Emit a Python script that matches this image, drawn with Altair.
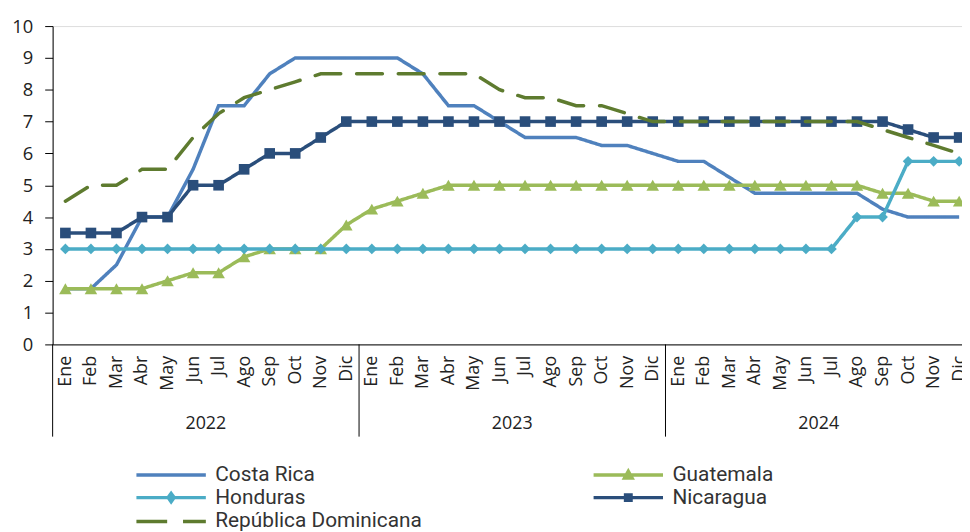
import altair as alt
import pandas as pd

MESES = ["Ene", "Feb", "Mar", "Abr", "May", "Jun", "Jul", "Ago", "Sep", "Oct", "Nov", "Dic"]
ANIOS = ["2022", "2023", "2024"]
PAISES = ["Costa Rica", "Guatemala", "Honduras", "Nicaragua", "República Dominicana"]
COLORES = ["#4F81BD", "#9BBB59", "#4BACC6", "#2A4E7B", "#5E7B2F"]

costa_rica = [1.75, 1.75, 2.5, 4.0, 4.0, 5.5, 7.5, 7.5, 8.5, 9.0, 9.0, 9.0,
              9.0, 9.0, 8.5, 7.5, 7.5, 7.0, 6.5, 6.5, 6.5, 6.25, 6.25, 6.0,
              5.75, 5.75, 5.25, 4.75, 4.75, 4.75, 4.75, 4.75, 4.25, 4.0, 4.0, 4.0]
guatemala = [1.75, 1.75, 1.75, 1.75, 2.0, 2.25, 2.25, 2.75, 3.0, 3.0, 3.0, 3.75,
             4.25, 4.5, 4.75, 5.0, 5.0, 5.0, 5.0, 5.0, 5.0, 5.0, 5.0, 5.0,
             5.0, 5.0, 5.0, 5.0, 5.0, 5.0, 5.0, 5.0, 4.75, 4.75, 4.5, 4.5]
honduras = [3.0, 3.0, 3.0, 3.0, 3.0, 3.0, 3.0, 3.0, 3.0, 3.0, 3.0, 3.0,
            3.0, 3.0, 3.0, 3.0, 3.0, 3.0, 3.0, 3.0, 3.0, 3.0, 3.0, 3.0,
            3.0, 3.0, 3.0, 3.0, 3.0, 3.0, 3.0, 4.0, 4.0, 5.75, 5.75, 5.75]
nicaragua = [3.5, 3.5, 3.5, 4.0, 4.0, 5.0, 5.0, 5.5, 6.0, 6.0, 6.5, 7.0,
             7.0, 7.0, 7.0, 7.0, 7.0, 7.0, 7.0, 7.0, 7.0, 7.0, 7.0, 7.0,
             7.0, 7.0, 7.0, 7.0, 7.0, 7.0, 7.0, 7.0, 7.0, 6.75, 6.5, 6.5]
rep_dominicana = [4.5, 5.0, 5.0, 5.5, 5.5, 6.5, 7.25, 7.75, 8.0, 8.25, 8.5, 8.5,
                  8.5, 8.5, 8.5, 8.5, 8.5, 8.0, 7.75, 7.75, 7.5, 7.5, 7.25, 7.0,
                  7.0, 7.0, 7.0, 7.0, 7.0, 7.0, 7.0, 7.0, 6.75, 6.5, 6.25, 6.0]

SERIES = [costa_rica, guatemala, honduras, nicaragua, rep_dominicana]

rows = []
for pais, vals in zip(PAISES, SERIES):
    for i, v in enumerate(vals):
        rows.append({"pais": pais, "idx": i, "valor": v})
df = pd.DataFrame(rows)

n = len(MESES) * len(ANIOS)
years_df = pd.DataFrame({"anio": ANIOS,
                         "centro": [k * len(MESES) + (len(MESES) - 1) / 2 for k in range(len(ANIOS))]})
sep_df = pd.DataFrame({"pos": [k * len(MESES) - 0.5 for k in range(len(ANIOS) + 1)]})

W = 917
H = 321
FULL_W = 927
FONT = "Open Sans"

xscale = alt.Scale(domain=[-0.5, n - 0.5], range=[0, FULL_W], nice=False, zero=False)
yscale = alt.Scale(domain=[0, 10], nice=False)

meses_js = "[" + ",".join('"%s"' % m for m in MESES) + "]"

x_axis = alt.Axis(values=list(range(n)), labelExpr=meses_js + "[datum.value % 12]",
                  labelAngle=270, labelFont=FONT, labelFontSize=18, labelColor="#222",
                  labelPadding=11, ticks=False, tickSize=0, domainColor="#000",
                  labelOverlap=False, labelBound=False, labelFlush=False, grid=False, title=None)
y_axis = alt.Axis(values=list(range(0, 11)), labelFont=FONT, labelFontSize=18.5, labelColor="#222",
                  tickSize=8, tickColor="#000", domainColor="#000", labelPadding=12,
                  grid=False, title=None)

X = alt.X("idx:Q", scale=xscale, axis=x_axis)
Y = alt.Y("valor:Q", scale=yscale, axis=y_axis)

base = alt.Chart(df)

layers = []
marker = {"Guatemala": ("triangle-up", 160), "Honduras": ("diamond", 115), "Nicaragua": ("square", 115)}
for k, (pais, col) in enumerate(zip(PAISES, COLORES)):
    is_rd = pais == "República Dominicana"
    dash = [26, 16] if is_rd else [1, 0]
    ln = base.transform_filter(alt.datum.pais == pais).mark_line(
        color=col, strokeWidth=3.5, strokeDash=dash, strokeCap="round" if is_rd else "butt"
    ).encode(x=X, y=Y)
    layers.append(ln)
    if pais in marker:
        shp, sz = marker[pais]
        pt = base.transform_filter(alt.datum.pais == pais).mark_point(
            shape=shp, size=sz, filled=True, color=col, opacity=1
        ).encode(x=X, y=Y)
        layers.append(pt)

# legend: order chosen so that the column-wise layout reads row-wise like the reference
LEG_ORDER = ["Costa Rica", "Honduras", "República Dominicana", "Guatemala", "Nicaragua"]
LEG_COLORS = [COLORES[PAISES.index(p)] for p in LEG_ORDER]
SHAPE_BY = {
    "Costa Rica": "M-1,0L13,0",
    "Guatemala": "M6,-0.75L6.75,0.6L5.25,0.6ZM-1,0L13,0",
    "Honduras": "M6,-0.85L6.6,0L6,0.85L5.4,0ZM-1,0L13,0",
    "Nicaragua": "M5.45,-0.55L6.55,-0.55L6.55,0.55L5.45,0.55ZM-1,0L13,0",
    "República Dominicana": "M-1,0L5.2,0M8.4,0L13,0",
}
LEG_SHAPES = [SHAPE_BY[p] for p in LEG_ORDER]
legend = alt.Legend(orient="none", legendX=79, legendY=442, columns=2, columnPadding=165,
                    rowPadding=1, symbolSize=100, symbolStrokeWidth=3.5, symbolOpacity=1,
                    labelFont="Roboto", labelFontSize=21, labelColor="#333", labelOffset=64,
                    title=None, labelLimit=400)
leg_layer = base.mark_point(filled=True, opacity=0, strokeWidth=3.5).encode(
    x=X, y=Y,
    fill=alt.Fill("pais:N", scale=alt.Scale(domain=LEG_ORDER, range=LEG_COLORS), legend=legend),
    stroke=alt.Stroke("pais:N", scale=alt.Scale(domain=LEG_ORDER, range=LEG_COLORS), legend=legend),
    shape=alt.Shape("pais:N", scale=alt.Scale(domain=LEG_ORDER, range=LEG_SHAPES), legend=legend),
)
layers.append(leg_layer)

seps = alt.Chart(sep_df).mark_rule(color="#000", strokeWidth=1).encode(
    x=alt.X("pos:Q", scale=xscale, axis=x_axis), y=alt.value(H), y2=alt.value(H + 93)
)
years = alt.Chart(years_df).mark_text(font=FONT, fontSize=18, color="#222", baseline="middle").encode(
    x=alt.X("centro:Q", scale=xscale, axis=x_axis), y=alt.value(H + 80), text="anio:N"
)
layers += [seps, years]

chart = alt.layer(*layers).properties(
    width=W, height=H,
    autosize=alt.AutoSizeParams(type="none"),
    padding={"left": 45, "top": 16, "right": 0, "bottom": 195},
).configure_view(strokeWidth=0, stroke="transparent").configure(background="white")

chart.save("out.html", embed_options={"renderer": "svg", "actions": False})
